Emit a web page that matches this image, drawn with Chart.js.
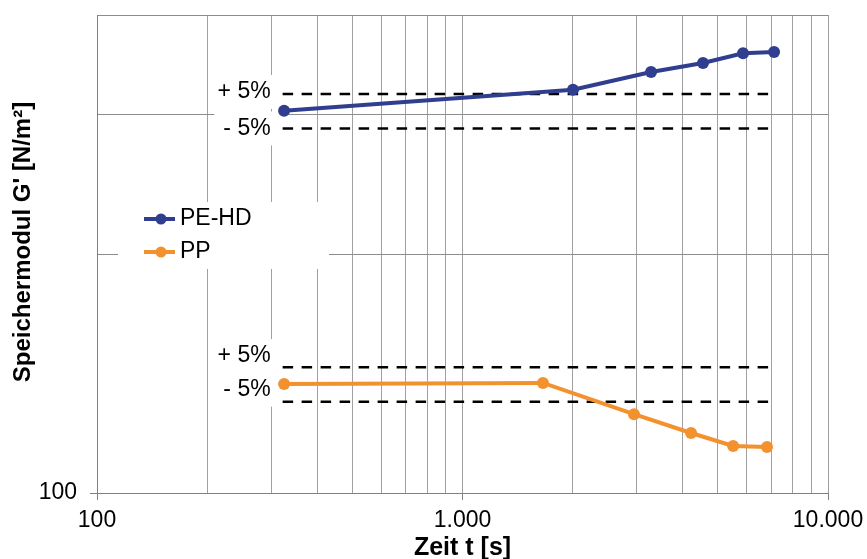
<!DOCTYPE html>
<html>
<head>
<meta charset="utf-8">
<script src="https://cdn.jsdelivr.net/npm/chart.js@4/dist/chart.umd.min.js"></script>
<style>
  html, body { margin: 0; background: #fff; }
  #wrap { width: 867px; height: 559px; }
</style>
</head>
<body>
<div id="wrap"><canvas id="chart"></canvas></div>
<script>
// Messwerte: Zeit [s] und Speichermodul G' [N/m²]
const seriesNames = ['PE-HD', 'PP'];
const zeitPE = [325, 2006, 3280, 4550, 5855, 7120];
const modulPE = [303, 322, 339, 348, 358, 359.3];
const zeitPP = [325, 1660, 2946, 4220, 5500, 6810];
const modulPP = [137.2, 137.6, 125.7, 119.0, 114.6, 114.3];

// Toleranzband +/- 5 % um den Startwert
const bandZeit = [322, 6980];
const bandLabels = ['+ 5%', '- 5%'];

const xTicks = [100, 200, 300, 400, 500, 600, 700, 800, 900,
  1000, 2000, 3000, 4000, 5000, 6000, 7000, 8000, 9000, 10000];
const xTickLabels = { 100: '100', 1000: '1.000', 10000: '10.000' };
const yTicks = [100, 200, 300, 400];
const yTickLabels = { 100: '100' };

const colors = ['#2F3E8F', '#F4912F'];
const FONT = "'Liberation Sans', Arial, sans-serif";

function points(xs, ys) {
  return xs.map((x, i) => ({ x, y: ys[i] }));
}

function band(base, factor) {
  return bandZeit.map(x => ({ x, y: base * factor }));
}

const dashed = {
  borderColor: '#000',
  borderWidth: 2.5,
  borderDash: [10.5, 8.5],
  pointRadius: 0,
  showLine: true
};

function series(i, data) {
  return {
    label: seriesNames[i],
    data,
    borderColor: colors[i],
    backgroundColor: colors[i],
    borderWidth: 4,
    pointRadius: 6,
    pointHoverRadius: 6,
    pointBorderWidth: 0,
    showLine: true
  };
}

// white boxes with the +/-5% texts and the legend, drawn over the grid
const annotations = {
  id: 'annotations',
  beforeDatasetsDraw(chart) {
    const { ctx, chartArea, scales } = chart;
    const x = scales.x, y = scales.y;
    ctx.save();
    ctx.font = '23px ' + FONT;
    ctx.textBaseline = 'middle';
    ctx.textAlign = 'right';

    const right = x.getPixelForValue(bandZeit[0]) - 12;
    const bands = [
      { base: modulPE[0], shift: [-2, 0], pad: 9 },
      { base: modulPP[0], shift: [-11, -12], pad: 5 }
    ];
    bands.forEach(b => {
      [1.05, 0.95].forEach((f, k) => {
        const ty = y.getPixelForValue(b.base * f) + b.shift[k];
        const w = ctx.measureText(bandLabels[k]).width;
        ctx.fillStyle = '#fff';
        ctx.fillRect(right - w - b.pad, ty - 17, w + 2 * b.pad, 34);
        ctx.fillStyle = '#000';
        ctx.fillText(bandLabels[k], right, ty);
      });
    });

    // legend
    const lx = chartArea.left + 21, ly = chartArea.top + 187;
    ctx.fillStyle = '#fff';
    ctx.fillRect(lx, ly, 211, 67);
    ctx.textAlign = 'left';
    seriesNames.forEach((name, i) => {
      const cy = ly + 17 + i * 33;
      ctx.strokeStyle = colors[i];
      ctx.lineWidth = 4;
      ctx.beginPath();
      ctx.moveTo(lx + 26, cy);
      ctx.lineTo(lx + 57, cy);
      ctx.stroke();
      ctx.fillStyle = colors[i];
      ctx.beginPath();
      ctx.arc(lx + 43, cy, 5.5, 0, Math.PI * 2);
      ctx.fill();
      ctx.fillStyle = '#000';
      ctx.fillText(name, lx + 62, cy);
    });
    ctx.restore();
  },
  afterDraw(chart) {
    // y axis title
    const { ctx, chartArea } = chart;
    ctx.save();
    ctx.translate(23, (chartArea.top + chartArea.bottom) / 2 - 12);
    ctx.rotate(-Math.PI / 2);
    ctx.font = 'bold 24px ' + FONT;
    ctx.fillStyle = '#000';
    ctx.textAlign = 'center';
    ctx.textBaseline = 'middle';
    ctx.fillText("Speichermodul G' [N/m²]", 0, 0);
    ctx.restore();
  }
};

new Chart(document.getElementById('chart'), {
  type: 'scatter',
  data: {
    datasets: [
      series(0, points(zeitPE, modulPE)),
      series(1, points(zeitPP, modulPP)),
      Object.assign({ label: '+5% PE-HD', data: band(modulPE[0], 1.05) }, dashed),
      Object.assign({ label: '-5% PE-HD', data: band(modulPE[0], 0.95) }, dashed),
      Object.assign({ label: '+5% PP', data: band(modulPP[0], 1.05) }, dashed),
      Object.assign({ label: '-5% PP', data: band(modulPP[0], 0.95) }, dashed)
    ]
  },
  plugins: [annotations],
  options: {
    responsive: true,
    maintainAspectRatio: false,
    animation: false,
    layout: { padding: { top: 15, right: 39, left: 0, bottom: 0 } },
    plugins: {
      legend: { display: false },
      tooltip: { enabled: false }
    },
    scales: {
      x: {
        type: 'logarithmic',
        min: 100,
        max: 10000,
        afterBuildTicks: axis => { axis.ticks = xTicks.map(v => ({ value: v })); },
        afterFit: axis => {
          axis.height = 66;
          axis.paddingLeft = 0;
          axis.paddingRight = 0;
        },
        ticks: {
          autoSkip: false,
          maxRotation: 0,
          padding: 7,
          color: '#000',
          font: { family: FONT, size: 23 },
          callback: v => xTickLabels[v] || ''
        },
        grid: {
          color: '#a0a0a0',
          tickLength: 7,
          tickColor: ctx => xTickLabels[ctx.tick.value] ? '#808080' : 'transparent'
        },
        border: { color: '#808080' },
        title: {
          display: true,
          text: 'Zeit t [s]',
          color: '#000',
          font: { family: FONT, size: 25, weight: 'bold', lineHeight: 1 },
          padding: { top: 0, bottom: -2 }
        }
      },
      y: {
        type: 'logarithmic',
        min: 100,
        max: 400,
        afterBuildTicks: axis => { axis.ticks = yTicks.map(v => ({ value: v })); },
        afterFit: axis => {
          axis.width = 97;
          axis.paddingTop = 0;
          axis.paddingBottom = 0;
        },
        ticks: {
          autoSkip: false,
          padding: 13,
          color: '#000',
          font: { family: FONT, size: 23 },
          callback: v => yTickLabels[v] || ''
        },
        grid: {
          color: '#8c8c8c',
          tickLength: 7,
          tickColor: ctx => yTickLabels[ctx.tick.value] ? '#808080' : 'transparent'
        },
        border: { color: '#808080' }
      }
    }
  }
});
</script>
</body>
</html>
